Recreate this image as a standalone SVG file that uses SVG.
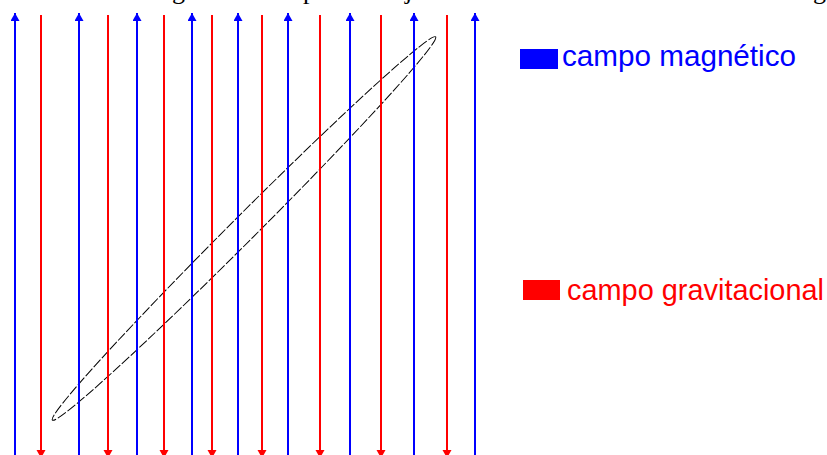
<svg xmlns="http://www.w3.org/2000/svg" width="827" height="455" viewBox="0 0 827 455">
  <style>
    .mag { stroke: #0000FF; stroke-width: 2; fill: none; }
    .grav { stroke: #FF0000; stroke-width: 2; fill: none; }
    .legend { font-family: "Liberation Sans", Arial, sans-serif; font-size: 29px; }
    .cut { font-family: "Liberation Serif", "Times New Roman", serif; font-size: 26px; fill: #000; }
  </style>
  <defs>
    <marker id="arrBlue" markerWidth="10" markerHeight="10" refX="8" refY="4.5" orient="auto" markerUnits="userSpaceOnUse">
      <path d="M0,0 L8,4.5 L0,9 z" fill="#0000FF"/>
    </marker>
    <marker id="arrRed" markerWidth="10" markerHeight="10" refX="8" refY="4.5" orient="auto" markerUnits="userSpaceOnUse">
      <path d="M0,0 L8,4.5 L0,9 z" fill="#FF0000"/>
    </marker>
  </defs>
  <rect width="827" height="455" fill="#FFFFFF"/>

  <g id="cut-text">
    <text class="cut" x="172" y="-1">g</text>
    <text class="cut" x="303" y="-1">p</text>
    <text class="cut" x="405" y="-1">j</text>
    <text class="cut" x="813" y="-1">g</text>
  </g>

  <g id="loop">
    <ellipse cx="244" cy="228.5" rx="271" ry="12.5" transform="rotate(-45 244 228.5)" fill="none" stroke="#000" stroke-width="1" stroke-dasharray="10 2"/>
  </g>

  <g id="connectors">
    <g id="magnetic-lines">
      <line class="mag" x1="15" y1="456" x2="15" y2="13" marker-end="url(#arrBlue)"/>
      <line class="mag" x1="79" y1="456" x2="79" y2="13" marker-end="url(#arrBlue)"/>
      <line class="mag" x1="137" y1="456" x2="137" y2="13" marker-end="url(#arrBlue)"/>
      <line class="mag" x1="192" y1="456" x2="192" y2="13" marker-end="url(#arrBlue)"/>
      <line class="mag" x1="238" y1="456" x2="238" y2="13" marker-end="url(#arrBlue)"/>
      <line class="mag" x1="288" y1="456" x2="288" y2="13" marker-end="url(#arrBlue)"/>
      <line class="mag" x1="350" y1="456" x2="350" y2="13" marker-end="url(#arrBlue)"/>
      <line class="mag" x1="414" y1="456" x2="414" y2="13" marker-end="url(#arrBlue)"/>
      <line class="mag" x1="475" y1="456" x2="475" y2="13" marker-end="url(#arrBlue)"/>
    </g>
    <g id="gravitational-lines">
      <line class="grav" x1="41" y1="15" x2="41" y2="458" marker-end="url(#arrRed)"/>
      <line class="grav" x1="108" y1="15" x2="108" y2="458" marker-end="url(#arrRed)"/>
      <line class="grav" x1="164" y1="15" x2="164" y2="458" marker-end="url(#arrRed)"/>
      <line class="grav" x1="212" y1="15" x2="212" y2="458" marker-end="url(#arrRed)"/>
      <line class="grav" x1="262" y1="15" x2="262" y2="458" marker-end="url(#arrRed)"/>
      <line class="grav" x1="320" y1="15" x2="320" y2="458" marker-end="url(#arrRed)"/>
      <line class="grav" x1="381" y1="15" x2="381" y2="458" marker-end="url(#arrRed)"/>
      <line class="grav" x1="447" y1="15" x2="447" y2="458" marker-end="url(#arrRed)"/>
    </g>
  </g>

  <g id="legend-magnetic">
    <rect x="520" y="49" width="38" height="20" fill="#0000FF"/>
    <text class="legend" x="562" y="66" fill="#0000FF" textLength="234" lengthAdjust="spacingAndGlyphs">campo magnético</text>
  </g>
  <g id="legend-gravitational">
    <rect x="523" y="280" width="37" height="20" fill="#FF0000"/>
    <text class="legend" x="567" y="300" fill="#FF0000" textLength="257" lengthAdjust="spacingAndGlyphs">campo gravitacional</text>
  </g>
</svg>
